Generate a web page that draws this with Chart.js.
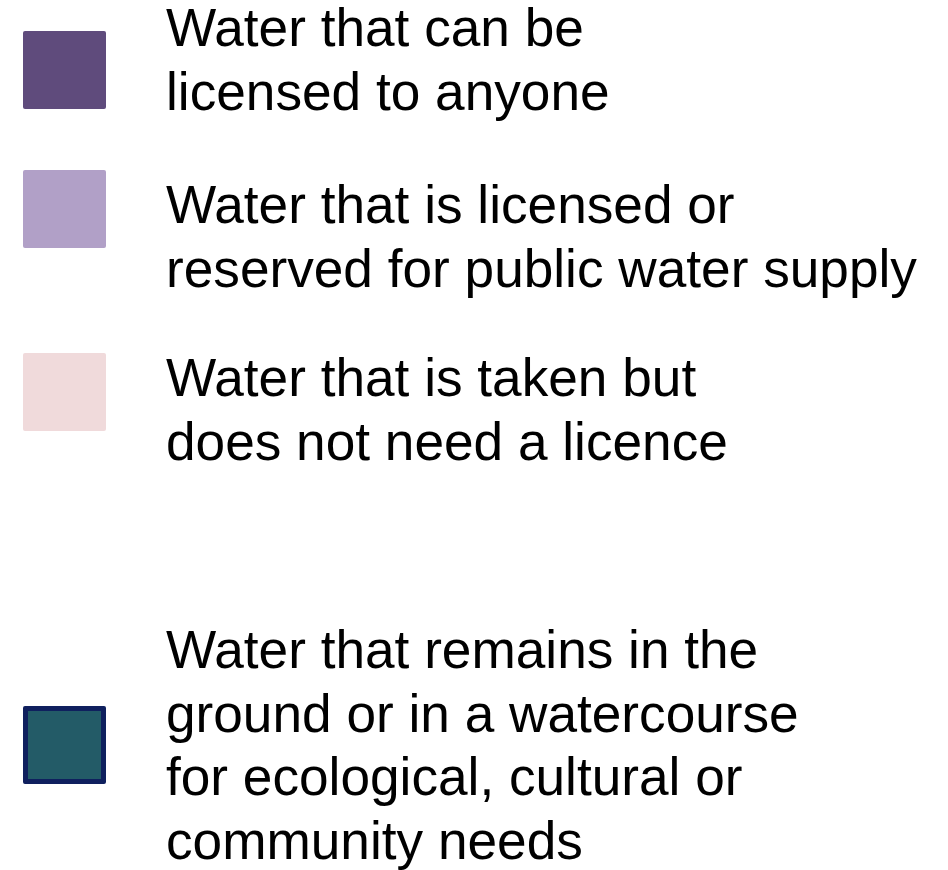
<!DOCTYPE html>
<html>
<head>
<meta charset="utf-8">
<script src="https://cdn.jsdelivr.net/npm/chart.js@4.4.1/dist/chart.umd.min.js"></script>
<style>
  html, body { margin: 0; padding: 0; background: #fff; }
  #wrap { position: relative; width: 948px; height: 870px; overflow: hidden; }
  #chart { position: absolute; left: 0; top: 0; }
  #legend { position: absolute; left: 0; top: 0; width: 948px; height: 870px;
            font-family: "Liberation Sans", Arial, sans-serif; color: #000; }
  .swatch { position: absolute; left: 23px; width: 83px; height: 78px;
            box-sizing: border-box; border-radius: 2px; }
  .label { position: absolute; left: 166px; font-size: 53.2px; line-height: 63.5px;
           white-space: nowrap; }
</style>
</head>
<body>
<div id="wrap">
  <canvas id="chart" width="948" height="870"></canvas>
  <div id="legend"></div>
</div>
<script>
// Catégories de la légende (une ligne de texte par entrée de tableau)
const seriesLabels = [
    ['Water that can be', 'licensed to anyone'],
    ['Water that is licensed or', 'reserved for public water supply'],
    ['Water that is taken but', 'does not need a licence'],
    ['Water that remains in the', 'ground or in a watercourse', 'for ecological, cultural or', 'community needs']
];
const seriesColors = ['#5f4b7c', '#b1a0c7', '#f0dadb', '#235b67'];
const seriesBorders = ['#5f4b7c', '#b1a0c7', '#f0dadb', '#0f205e'];
const seriesBorderWidths = [0, 0, 0, 5];
// Aucune valeur visible dans l'image : seule la légende est montrée
const seriesValues = [[], [], [], []];

// position verticale de chaque entrée (carré, texte)
const swatchTops = [31, 170, 353, 706];
const labelTops = [-4, 173, 346, 618];

// Légende HTML construite à partir des éléments de légende de Chart.js
const htmlLegendPlugin = {
    id: 'htmlLegend',
    afterUpdate(chart) {
        const box = document.getElementById('legend');
        box.innerHTML = '';
        const items = chart.options.plugins.legend.labels.generateLabels(chart);
        items.forEach((item, i) => {
            const sw = document.createElement('span');
            sw.className = 'swatch';
            sw.style.top = swatchTops[i] + 'px';
            sw.style.background = item.fillStyle;
            if (item.lineWidth > 0) {
                sw.style.border = item.lineWidth + 'px solid ' + item.strokeStyle;
            }
            box.appendChild(sw);

            const txt = document.createElement('div');
            txt.className = 'label';
            txt.style.top = labelTops[i] + 'px';
            seriesLabels[i].forEach(line => {
                const d = document.createElement('div');
                d.textContent = line;
                txt.appendChild(d);
            });
            box.appendChild(txt);
        });
    }
};

const ctx = document.getElementById('chart').getContext('2d');
new Chart(ctx, {
    type: 'bar',
    data: {
        labels: [],
        datasets: seriesLabels.map((lines, i) => ({
            label: lines.join(' '),
            data: seriesValues[i],
            backgroundColor: seriesColors[i],
            borderColor: seriesBorders[i],
            borderWidth: seriesBorderWidths[i]
        }))
    },
    options: {
        responsive: false,
        animation: false,
        plugins: {
            legend: { display: false },
            tooltip: { enabled: false }
        },
        scales: {
            x: { display: false, stacked: true },
            y: { display: false, stacked: true }
        }
    },
    plugins: [htmlLegendPlugin]
});
</script>
</body>
</html>
